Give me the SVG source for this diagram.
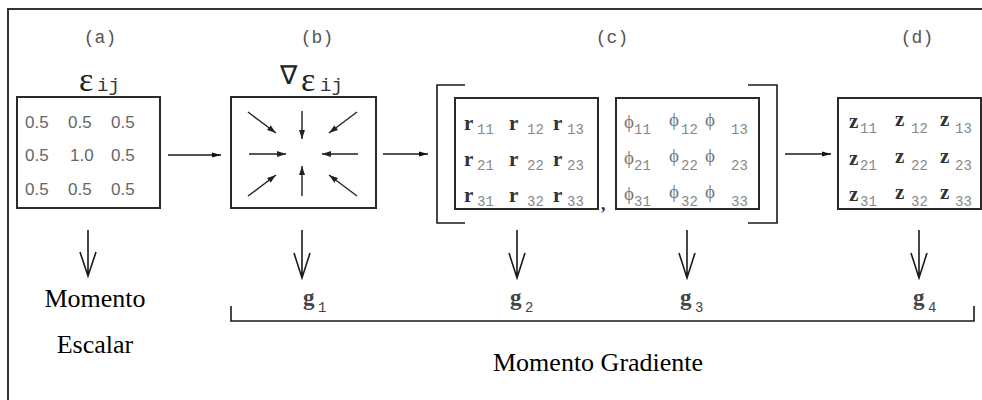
<svg xmlns="http://www.w3.org/2000/svg" width="982" height="400" viewBox="0 0 982 400">
<defs>
<style>
.box{fill:#fff;stroke:#2a2a2a;stroke-width:2}
.ln{stroke:#1a1a1a;stroke-width:1.6;fill:none}
.sm{stroke:#222;stroke-width:1.4;fill:none}
.lab{font-family:"Liberation Mono",monospace;font-size:18px;fill:#555}
.num{font-family:"Liberation Sans",Arial,sans-serif;font-size:17px;fill:#666}
.mv{font-family:"Liberation Serif",serif;font-size:21px;font-weight:bold;fill:#333}
.phi{font-family:"Liberation Serif",serif;font-size:19px;fill:#777}
.sub{font-family:"Liberation Mono",monospace;font-size:14px;fill:#888}
.big{font-family:"Liberation Serif",serif;font-size:26px;fill:#000}
.eps{font-family:"Liberation Serif",serif;font-size:34px;fill:#222}
.ij{font-family:"Liberation Mono",monospace;font-size:19px;fill:#333}
.g{font-family:"Liberation Serif",serif;font-size:23px;font-weight:bold;fill:#444}
.gs{font-family:"Liberation Mono",monospace;font-size:14px;fill:#444}
</style>
<marker id="ah" markerWidth="10" markerHeight="6" refX="9" refY="3" orient="auto" markerUnits="userSpaceOnUse">
<path d="M0,0.6 L9,3 L0,5.4 Z" fill="#111"/>
</marker>
<marker id="ahs" markerWidth="10" markerHeight="7" refX="9" refY="3.5" orient="auto" markerUnits="userSpaceOnUse">
<path d="M0,0.5 L9,3.5 L0,6.5 Z" fill="#222"/>
</marker>
</defs>
<rect x="0" y="0" width="982" height="400" fill="#fff"/>
<path d="M8 400 V9 H982" fill="none" stroke="#333" stroke-width="2"/>

<g id="labels">
<text class="lab" x="100" y="43" text-anchor="middle">(a)</text>
<text class="lab" x="317" y="43" text-anchor="middle">(b)</text>
<text class="lab" x="612" y="43" text-anchor="middle">(c)</text>
<text class="lab" x="917" y="43" text-anchor="middle">(d)</text>
</g>

<g id="node-a">
<text class="eps" x="79" y="91">ε</text><text class="ij" x="97" y="91">ij</text>
<rect class="box" x="17" y="97" width="143" height="111"/>
<text class="num"><tspan x="25" y="128">0.5</tspan><tspan x="68" y="128">0.5</tspan><tspan x="111" y="128">0.5</tspan></text>
<text class="num"><tspan x="25" y="161">0.5</tspan><tspan x="70" y="161">1.0</tspan><tspan x="111" y="161">0.5</tspan></text>
<text class="num"><tspan x="25" y="195">0.5</tspan><tspan x="68" y="195">0.5</tspan><tspan x="111" y="195">0.5</tspan></text>
</g>

<g id="node-b">
<text class="eps" x="280" y="84" style="font-size:26px">∇</text><text class="eps" x="301" y="91">ε</text><text class="ij" x="320" y="91">ij</text>
<rect class="box" x="231" y="97" width="145" height="111"/>
<g marker-end="url(#ahs)">
<line class="sm" x1="248" y1="112" x2="276" y2="133"/>
<line class="sm" x1="302" y1="111" x2="302" y2="139"/>
<line class="sm" x1="357" y1="112" x2="329" y2="133"/>
<line class="sm" x1="249" y1="154" x2="286" y2="154"/>
<line class="sm" x1="358" y1="154" x2="322" y2="154"/>
<line class="sm" x1="248" y1="196" x2="276" y2="175"/>
<line class="sm" x1="302" y1="196" x2="302" y2="166"/>
<line class="sm" x1="357" y1="196" x2="329" y2="175"/>
</g>
</g>

<g id="node-c">
<path class="ln" d="M465 85 H437 V223 H465"/>
<path class="ln" d="M748 85 H777 V223 H748"/>
<rect class="box" x="455" y="98" width="143" height="111"/>
<rect class="box" x="616" y="98" width="143" height="111"/>
<text class="mv" x="601" y="210" style="font-size:18px">,</text>
<g>
<text class="mv" x="464" y="130">r</text><text class="sub" x="477" y="134">11</text>
<text class="mv" x="509" y="130">r</text><text class="sub" x="527" y="134">12</text>
<text class="mv" x="553" y="130">r</text><text class="sub" x="567" y="134">13</text>
<text class="mv" x="464" y="166">r</text><text class="sub" x="477" y="170">21</text>
<text class="mv" x="509" y="166">r</text><text class="sub" x="527" y="170">22</text>
<text class="mv" x="553" y="166">r</text><text class="sub" x="567" y="170">23</text>
<text class="mv" x="464" y="202">r</text><text class="sub" x="477" y="206">31</text>
<text class="mv" x="509" y="202">r</text><text class="sub" x="527" y="206">32</text>
<text class="mv" x="553" y="202">r</text><text class="sub" x="567" y="206">33</text>
</g>
<g>
<text class="phi" x="624" y="128">ϕ</text><text class="sub" x="634" y="134">11</text>
<text class="phi" x="669" y="126">ϕ</text><text class="sub" x="681" y="134">12</text>
<text class="phi" x="705" y="126">ϕ</text><text class="sub" x="731" y="134">13</text>
<text class="phi" x="624" y="164">ϕ</text><text class="sub" x="634" y="170">21</text>
<text class="phi" x="669" y="162">ϕ</text><text class="sub" x="681" y="170">22</text>
<text class="phi" x="705" y="162">ϕ</text><text class="sub" x="731" y="170">23</text>
<text class="phi" x="624" y="200">ϕ</text><text class="sub" x="634" y="206">31</text>
<text class="phi" x="669" y="198">ϕ</text><text class="sub" x="681" y="206">32</text>
<text class="phi" x="705" y="198">ϕ</text><text class="sub" x="731" y="206">33</text>
</g>
</g>

<g id="node-d">
<rect class="box" x="838" y="98" width="143" height="111"/>
<text class="mv" x="849" y="128">z</text><text class="sub" x="860" y="133">11</text>
<text class="mv" x="895" y="126">z</text><text class="sub" x="911" y="133">12</text>
<text class="mv" x="940" y="126">z</text><text class="sub" x="955" y="133">13</text>
<text class="mv" x="849" y="165">z</text><text class="sub" x="860" y="170">21</text>
<text class="mv" x="895" y="163">z</text><text class="sub" x="911" y="170">22</text>
<text class="mv" x="940" y="163">z</text><text class="sub" x="955" y="170">23</text>
<text class="mv" x="849" y="201">z</text><text class="sub" x="860" y="206">31</text>
<text class="mv" x="895" y="199">z</text><text class="sub" x="911" y="206">32</text>
<text class="mv" x="940" y="199">z</text><text class="sub" x="955" y="206">33</text>
</g>

<g id="connectors">
<line class="ln" x1="168" y1="155" x2="221" y2="155" marker-end="url(#ah)"/>
<line class="ln" x1="383" y1="154" x2="428" y2="154" marker-end="url(#ah)"/>
<line class="ln" x1="785" y1="154" x2="831" y2="154" marker-end="url(#ah)"/>
<g class="ln">
<path d="M88 230 V276 M80 252 L88 276 L96 252"/>
<path d="M302 230 V278 M294 253 L302 278 L310 253"/>
<path d="M517 230 V278 M509 253 L517 278 L525 253"/>
<path d="M687 230 V278 M679 253 L687 278 L695 253"/>
<path d="M919 230 V278 M911 253 L919 278 L927 253"/>
</g>
<path class="ln" d="M231 306 V321 H974 V306"/>
</g>

<g id="outputs">
<text class="big" x="95" y="307" text-anchor="middle">Momento</text>
<text class="big" x="95" y="353" text-anchor="middle">Escalar</text>
<text class="g" x="303" y="305">g</text><text class="gs" x="318" y="312">1</text>
<text class="g" x="510" y="305">g</text><text class="gs" x="525" y="312">2</text>
<text class="g" x="680" y="305">g</text><text class="gs" x="695" y="312">3</text>
<text class="g" x="913" y="305">g</text><text class="gs" x="928" y="312">4</text>
<text class="big" x="493" y="371">Momento Gradiente</text>
</g>
</svg>
